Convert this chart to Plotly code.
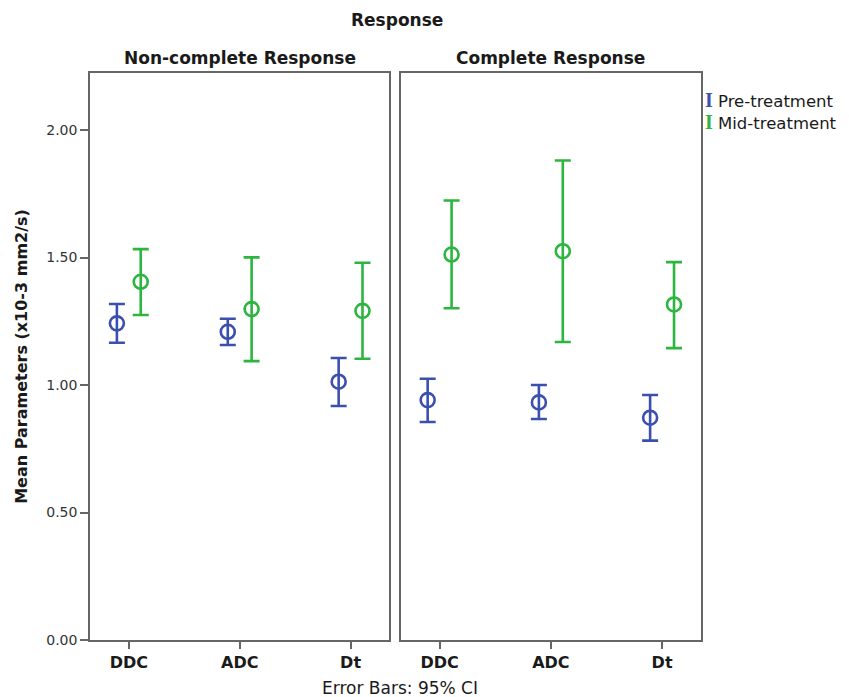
import plotly.graph_objects as go

categories = ["DDC", "ADC", "Dt"]
panels = ["Non-complete Response", "Complete Response"]

# Non-complete response
nc_pre_mean = [1.242, 1.209, 1.013]
nc_pre_low = [1.166, 1.157, 0.918]
nc_pre_high = [1.318, 1.260, 1.106]
nc_mid_mean = [1.405, 1.298, 1.291]
nc_mid_low = [1.275, 1.094, 1.103]
nc_mid_high = [1.533, 1.501, 1.480]

# Complete response
cr_pre_mean = [0.941, 0.932, 0.872]
cr_pre_low = [0.855, 0.867, 0.782]
cr_pre_high = [1.025, 1.000, 0.961]
cr_mid_mean = [1.512, 1.525, 1.316]
cr_mid_low = [1.301, 1.169, 1.145]
cr_mid_high = [1.724, 1.881, 1.482]

series_names = ["Pre-treatment", "Mid-treatment"]
BLUE = "#3a4fae"
GREEN = "#2cb53f"
colors = [BLUE, GREEN]
FONT = "DejaVu Sans"
TXT = "#1a1a1a"
FRAME = "#666666"

fig = go.Figure()

panel_data = [
    [(nc_pre_mean, nc_pre_low, nc_pre_high), (nc_mid_mean, nc_mid_low, nc_mid_high)],
    [(cr_pre_mean, cr_pre_low, cr_pre_high), (cr_mid_mean, cr_mid_low, cr_mid_high)],
]

for p, series in enumerate(panel_data):
    xa = "x" if p == 0 else "x2"
    ya = "y" if p == 0 else "y2"
    for s, (mean, low, high) in enumerate(series):
        fig.add_trace(go.Scatter(
            x=categories, y=mean, name=series_names[s],
            mode="markers", xaxis=xa, yaxis=ya,
            offsetgroup=series_names[s],
            marker=dict(symbol="circle-open", size=14, color=colors[s],
                        line=dict(width=2.6, color=colors[s])),
            error_y=dict(type="data", symmetric=False,
                         array=[h - m for h, m in zip(high, mean)],
                         arrayminus=[m - l for m, l in zip(mean, low)],
                         color=colors[s], thickness=2.6, width=8),
            showlegend=False,
        ))

axis_common = dict(showline=True, linecolor=FRAME, linewidth=1.6, mirror=True,
                   showgrid=False, zeroline=False)

# page body has an 8px default margin, so the figure is offset by 8px
fig.update_layout(
    width=841, height=689,
    margin=dict(l=82, r=148, t=65, b=57),
    paper_bgcolor="white", plot_bgcolor="white",
    font=dict(family=FONT, color=TXT, size=15),
    scattermode="group", scattergap=0.57,
    xaxis=dict(domain=[0, 0.490], type="category", categoryorder="array",
               categoryarray=categories, range=[-0.35, 2.35],
               ticks="outside", ticklen=7, tickcolor=FRAME, tickwidth=1.6,
               tickfont=dict(size=16, weight="bold", color=TXT), **axis_common),
    xaxis2=dict(domain=[0.5085, 1], type="category", categoryorder="array",
                categoryarray=categories, range=[-0.35, 2.35],
                ticks="outside", ticklen=7, tickcolor=FRAME, tickwidth=1.6,
                tickfont=dict(size=16, weight="bold", color=TXT), **axis_common),
    yaxis=dict(range=[0, 2.224], tickvals=[0, 0.5, 1.0, 1.5, 2.0],
               tickformat=".2f", ticks="outside", ticklen=8, tickcolor=FRAME,
               tickwidth=1.6, tickfont=dict(size=14, color="#333333"),
               title=dict(text="Mean Parameters (x10-3 mm2/s)",
                          font=dict(size=16, weight="bold", color=TXT), standoff=15),
               **axis_common),
    yaxis2=dict(range=[0, 2.224], anchor="x2", showticklabels=False, ticks="",
                **axis_common),
)

annotations = [
    dict(text="<b>Response</b>", x=0.502, y=1.0935, xref="paper", yref="paper",
         xanchor="center", yanchor="middle", showarrow=False, font=dict(size=17)),
    dict(text="<b>" + panels[0] + "</b>", x=0.245, y=1.026, xref="paper", yref="paper",
         xanchor="center", yanchor="middle", showarrow=False, font=dict(size=17)),
    dict(text="<b>" + panels[1] + "</b>", x=0.754, y=1.026, xref="paper", yref="paper",
         xanchor="center", yanchor="middle", showarrow=False, font=dict(size=17)),
    dict(text="Error Bars: 95% CI", x=0.507, y=-0.085, xref="paper", yref="paper",
         xanchor="center", yanchor="middle", showarrow=False, font=dict(size=17)),
]
for i, (nm, c) in enumerate(zip(series_names, colors)):
    annotations.append(dict(
        text=(f'<span style="font-family:Liberation Serif;font-size:20px;color:{c}">'
              f'<b>I</b></span> {nm}'),
        x=1.004, y=0.952 - i * 0.039, xref="paper", yref="paper",
        xanchor="left", yanchor="middle", showarrow=False, font=dict(size=16.5)))
fig.update_layout(annotations=annotations)

fig.write_html("out.html")
